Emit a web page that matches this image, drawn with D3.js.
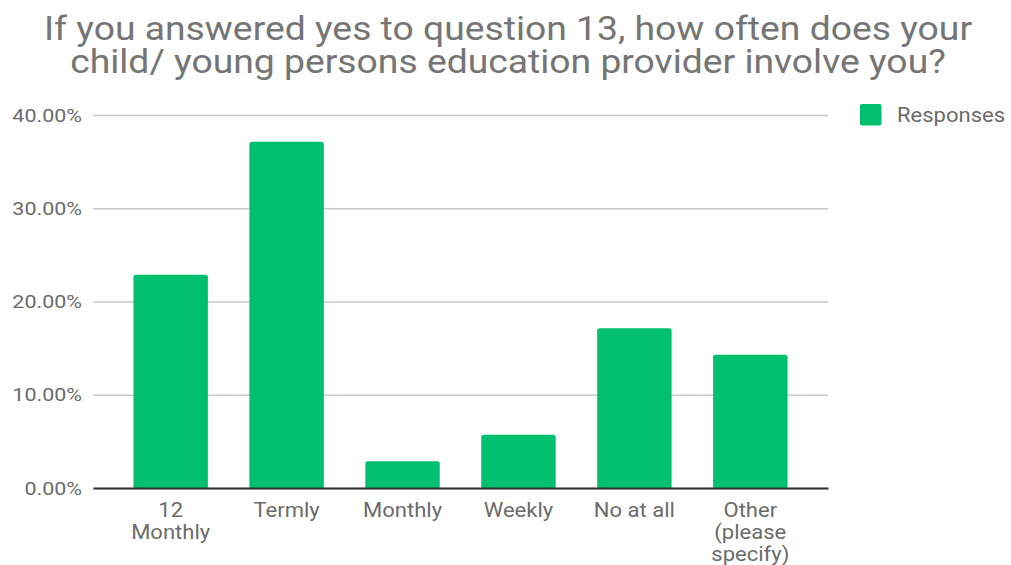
<!DOCTYPE html>
<html>
<head>
<meta charset="utf-8">
<script src="https://cdn.jsdelivr.net/npm/d3@7"></script>
<style>
  html, body { margin: 0; padding: 0; background: #fff; }
  svg { display: block; font-family: Roboto, "Noto Sans", sans-serif; }
</style>
</head>
<body>
<svg id="chart" width="1011" height="565"></svg>
<script>
// Survey question 14 results: share of respondents per answer
const categories = ["12 Monthly", "Termly", "Monthly", "Weekly", "No at all", "Other (please specify)"];
const categoryLines = [["12", "Monthly"], ["Termly"], ["Monthly"], ["Weekly"], ["No at all"], ["Other", "(please", "specify)"]];
const responses = [22.86, 37.14, 2.86, 5.71, 17.14, 14.29];
const yTicks = [0, 10, 20, 30, 40];
const titleLines = ["If you answered yes to question 13, how often does your", "child/ young persons education provider involve you?"];
const seriesName = "Responses";

const svg = d3.select("#chart");
const green = "#00bf6f";
const textGrey = "#6b6b6b";
const wide = 1.13; // horizontal widening of all lettering

// widen a text element horizontally about its anchor x
function widen(sel, ax) {
  sel.attr("transform", function() {
    const a = ax != null ? ax : +d3.select(this).attr("x") || 0;
    return `matrix(${wide},0,0,1,${a * (1 - wide)},0)`;
  });
}

const plotLeft = 93, plotRight = 828, plotTop = 115, plotBottom = 488;

const x = d3.scaleBand()
  .domain(categories)
  .range([plotLeft, plotRight])
  .paddingInner(0.358)
  .paddingOuter(0.349);

const y = d3.scaleLinear().domain([0, 40]).range([plotBottom, plotTop]);

// title
const titleX = 508;
svg.append("g").selectAll("text")
  .data(titleLines)
  .join("text")
  .attr("x", titleX)
  .attr("y", (d, i) => 40 + i * 33)
  .attr("text-anchor", "middle")
  .attr("font-size", 33)
  .attr("fill", "#757575")
  .text(d => d)
  .call(widen, titleX);

// gridlines and y labels
const yAxis = d3.axisLeft(y)
  .tickValues(yTicks)
  .tickSize(-(plotRight - plotLeft))
  .tickPadding(11)
  .tickFormat(d => d.toFixed(2) + "%");

const gy = svg.append("g")
  .attr("transform", `translate(${plotLeft},0)`)
  .call(yAxis);
gy.select(".domain").remove();
gy.selectAll(".tick line").attr("stroke", "#c8c8c8").attr("stroke-width", 1.3);
gy.selectAll(".tick text")
  .attr("font-size", 19)
  .attr("fill", textGrey)
  .attr("font-family", "Roboto, sans-serif")
  .call(widen);

// bars with slightly rounded tops
const r = 2.5;
svg.append("g").selectAll("path")
  .data(responses)
  .join("path")
  .attr("fill", green)
  .attr("d", (d, i) => {
    const x0 = x(categories[i]), w = x.bandwidth();
    const y0 = y(d), y1 = y(0);
    return `M${x0},${y1}V${y0 + r}Q${x0},${y0} ${x0 + r},${y0}H${x0 + w - r}Q${x0 + w},${y0} ${x0 + w},${y0 + r}V${y1}Z`;
  });

// baseline axis
const xAxis = d3.axisBottom(x).tickSize(0).tickFormat("");
const gx = svg.append("g")
  .attr("transform", `translate(0,${plotBottom})`)
  .call(xAxis);
gx.select(".domain").attr("stroke", "#333").attr("stroke-width", 2);

// category labels (wrapped)
const lab = svg.append("g").selectAll("text")
  .data(categories)
  .join("text")
  .attr("text-anchor", "middle")
  .attr("font-size", 19.5)
  .attr("fill", textGrey);
lab.each(function(d, i) {
  const cx = x(d) + x.bandwidth() / 2;
  const t = d3.select(this);
  t.selectAll("tspan")
    .data(categoryLines[i])
    .join("tspan")
    .attr("x", cx)
    .attr("y", (s, j) => 517 + j * 22)
    .text(s => s);
  t.call(widen, cx);
});

// legend
const lg = svg.append("g");
lg.append("rect")
  .attr("x", 860).attr("y", 104)
  .attr("width", 21.5).attr("height", 21.5)
  .attr("rx", 2)
  .attr("fill", green);
lg.append("text")
  .attr("x", 897).attr("y", 122)
  .attr("font-size", 19.5)
  .attr("fill", textGrey)
  .text(seriesName)
  .call(widen);
</script>
</body>
</html>
